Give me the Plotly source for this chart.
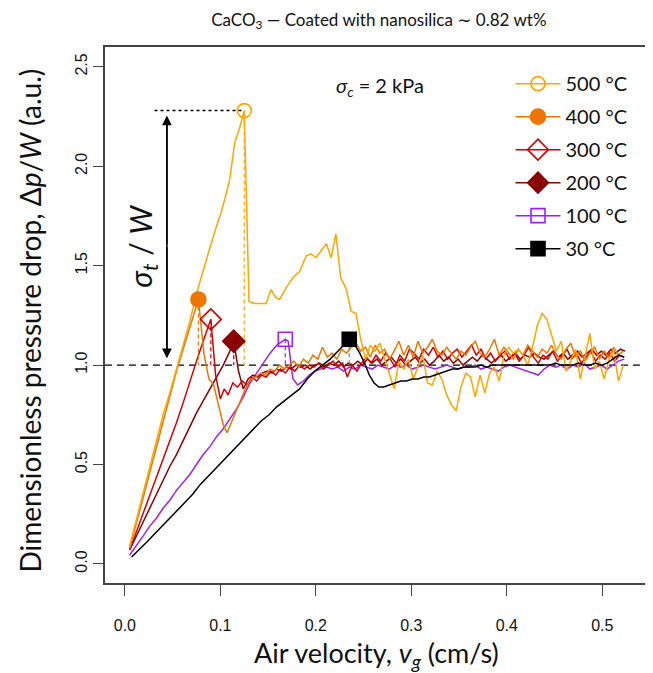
import plotly.graph_objects as go

# ---------------- data ----------------
series_names = ["500 °C", "400 °C", "300 °C", "200 °C", "100 °C", "30 °C"]

v_500 = [0.005, 0.012, 0.019, 0.026, 0.033, 0.040, 0.047, 0.054, 0.061, 0.068,
         0.075, 0.082, 0.089, 0.096, 0.101, 0.106, 0.110, 0.115, 0.120, 0.125,
         0.130, 0.136, 0.142, 0.148, 0.153, 0.158, 0.162, 0.169, 0.176, 0.183,
         0.190, 0.195, 0.200, 0.205, 0.211, 0.216, 0.221, 0.226, 0.232, 0.237,
         0.242, 0.247, 0.252, 0.257, 0.262, 0.267, 0.272, 0.277, 0.282, 0.287,
         0.292, 0.297, 0.302, 0.307, 0.312, 0.317, 0.322, 0.327, 0.332, 0.337,
         0.342, 0.347, 0.352, 0.357, 0.362, 0.367, 0.372, 0.377, 0.382, 0.387,
         0.392, 0.397, 0.402, 0.407, 0.412, 0.417, 0.422, 0.427, 0.432, 0.437,
         0.442, 0.447, 0.452, 0.457, 0.462, 0.467, 0.472, 0.477, 0.482, 0.487,
         0.492, 0.497, 0.502, 0.507, 0.512, 0.517, 0.522]
dp_500 = [0.09, 0.22, 0.36, 0.48, 0.62, 0.75, 0.86, 0.98, 1.10, 1.22,
          1.36, 1.48, 1.59, 1.70, 1.77, 1.86, 1.94, 2.12, 2.19, 2.28,
          1.32, 1.31, 1.31, 1.31, 1.38, 1.34, 1.33, 1.39, 1.44, 1.47,
          1.55, 1.56, 1.54, 1.57, 1.61, 1.54, 1.66, 1.44, 1.38, 1.27,
          1.26, 1.13, 1.03, 1.10, 1.07, 1.11, 1.03, 0.95, 0.88, 1.02,
          0.98, 1.03, 0.93, 0.99, 1.05, 0.91, 0.90, 0.97, 0.93, 0.85,
          0.80, 0.77, 0.89, 0.96, 0.94, 0.84, 0.95, 0.86, 0.96, 0.99,
          0.92, 1.05, 1.09, 1.06, 1.08, 1.05, 1.00, 1.09, 1.20, 1.26,
          1.23, 1.15, 1.07, 1.12, 0.97, 1.02, 1.08, 0.93, 1.05, 1.16,
          0.98, 1.02, 0.93, 1.03, 1.07, 0.92, 1.00]

v_400 = [0.005, 0.012, 0.019, 0.026, 0.033, 0.040, 0.047, 0.054, 0.061, 0.068,
         0.077, 0.083, 0.088, 0.093, 0.098, 0.103, 0.107, 0.112, 0.117, 0.122,
         0.127, 0.132, 0.137, 0.142, 0.147, 0.152, 0.157, 0.162, 0.167, 0.172,
         0.177, 0.182, 0.187, 0.192, 0.197, 0.202, 0.207, 0.212, 0.217, 0.222,
         0.227, 0.232, 0.237, 0.242, 0.247, 0.252, 0.257, 0.262, 0.267, 0.272,
         0.277, 0.282, 0.287, 0.292, 0.297, 0.302, 0.307, 0.312, 0.317, 0.322,
         0.327, 0.332, 0.337, 0.342, 0.347, 0.352, 0.357, 0.362, 0.367, 0.372,
         0.377, 0.382, 0.387, 0.392, 0.397, 0.402, 0.407, 0.412, 0.417, 0.422,
         0.427, 0.432, 0.437, 0.442, 0.447, 0.452, 0.457, 0.462, 0.467, 0.472,
         0.477, 0.482, 0.487, 0.492, 0.497, 0.502, 0.507, 0.512, 0.517, 0.522]
dp_400 = [0.08, 0.20, 0.33, 0.46, 0.59, 0.72, 0.84, 0.97, 1.08, 1.19,
          1.33, 1.05, 0.93, 0.90, 0.80, 0.70, 0.66, 0.72, 0.78, 0.84,
          0.89, 0.93, 0.94, 0.96, 0.95, 0.98, 0.97, 1.00, 0.98, 1.00,
          1.02, 0.99, 1.03, 1.01, 1.05, 1.03, 1.09, 1.04, 1.06, 1.03,
          1.08, 1.06, 1.09, 1.11, 1.07, 1.09, 1.04, 1.10, 1.06, 1.08,
          1.03, 1.07, 1.12, 1.05, 1.10, 1.04, 1.12, 1.06, 1.09, 1.13,
          1.07, 1.05, 1.09, 1.06, 1.03, 1.07, 1.05, 1.09, 1.12, 1.06,
          1.04, 1.08, 1.13, 1.05, 1.09, 1.06, 1.03, 1.08, 1.05, 1.10,
          1.07, 1.04, 1.08, 1.06, 1.10, 1.05, 1.03, 1.08, 1.11, 1.04,
          1.07, 1.02, 1.06, 1.09, 1.03, 1.07, 1.04, 1.09, 1.05, 1.07]

v_300 = [0.005, 0.012, 0.019, 0.026, 0.033, 0.040, 0.047, 0.054, 0.061, 0.068,
         0.075, 0.082, 0.090, 0.095, 0.100, 0.104, 0.108, 0.113, 0.118, 0.123,
         0.128, 0.133, 0.138, 0.143, 0.148, 0.153, 0.158, 0.163, 0.168, 0.173,
         0.178, 0.183, 0.188, 0.193, 0.198, 0.203, 0.208, 0.213, 0.218, 0.223,
         0.228, 0.233, 0.238, 0.243, 0.248, 0.253, 0.258, 0.263, 0.268, 0.273,
         0.278, 0.283, 0.288, 0.293, 0.298, 0.303, 0.308, 0.313, 0.318, 0.323,
         0.328, 0.333, 0.338, 0.343, 0.348, 0.353, 0.358, 0.363, 0.368, 0.373,
         0.378, 0.383, 0.388, 0.393, 0.398, 0.403, 0.408, 0.413, 0.418, 0.423,
         0.428, 0.433, 0.438, 0.443, 0.448, 0.453, 0.458, 0.463, 0.468, 0.473,
         0.478, 0.483, 0.488, 0.493, 0.498, 0.503, 0.508, 0.513, 0.518, 0.523]
dp_300 = [0.07, 0.16, 0.25, 0.34, 0.43, 0.52, 0.61, 0.71, 0.81, 0.92,
          1.02, 1.12, 1.23, 0.95, 0.83, 0.88, 0.85, 0.91, 0.89, 0.92,
          0.90, 0.94, 0.92, 0.95, 0.94, 0.97, 0.95, 0.98, 0.96, 0.99,
          0.97, 1.00, 0.98, 1.00, 0.99, 1.01, 0.98, 1.00, 1.02, 0.99,
          1.01, 0.94, 1.00, 0.97, 1.01, 1.04, 1.01, 1.05, 1.02, 1.06,
          1.03, 0.99, 1.05, 1.02, 1.08, 1.06, 1.03, 1.08, 1.05, 1.09,
          1.04, 1.07, 1.03, 1.06, 1.08, 1.04, 1.07, 1.10, 1.05, 1.08,
          1.03, 1.06, 1.02, 1.05, 1.07, 1.03, 1.06, 1.02, 1.05, 1.09,
          1.04, 1.01, 1.05, 1.03, 1.07, 1.02, 1.05, 1.08, 1.03, 1.06,
          1.01, 1.04, 1.07, 1.02, 1.05, 1.03, 1.06, 1.02, 1.05, 1.04]

v_200 = [0.005, 0.012, 0.019, 0.026, 0.033, 0.040, 0.047, 0.054, 0.061, 0.068,
         0.075, 0.082, 0.089, 0.096, 0.103, 0.109, 0.114, 0.119, 0.124, 0.129,
         0.134, 0.139, 0.144, 0.149, 0.154, 0.159, 0.164, 0.169, 0.174, 0.179,
         0.184, 0.189, 0.194, 0.199, 0.204, 0.209, 0.214, 0.219, 0.224, 0.229,
         0.234, 0.239, 0.244, 0.249, 0.254, 0.259, 0.264, 0.269, 0.274, 0.279,
         0.284, 0.289, 0.294, 0.299, 0.304, 0.309, 0.314, 0.319, 0.324, 0.329,
         0.334, 0.339, 0.344, 0.349, 0.354, 0.359, 0.364, 0.369, 0.374, 0.379,
         0.384, 0.389, 0.394, 0.399, 0.404, 0.409, 0.414, 0.419, 0.424, 0.429,
         0.434, 0.439, 0.444, 0.449, 0.454, 0.459, 0.464, 0.469, 0.474, 0.479,
         0.484, 0.489, 0.494, 0.499, 0.504, 0.509, 0.514, 0.519, 0.524]
dp_200 = [0.07, 0.14, 0.21, 0.28, 0.35, 0.42, 0.49, 0.55, 0.62, 0.69,
          0.76, 0.82, 0.88, 0.94, 1.00, 1.06, 1.12, 0.97, 0.88, 0.93,
          0.95, 0.94, 0.96, 0.97, 0.96, 0.98, 0.97, 0.99, 0.98, 1.00,
          0.99, 1.00, 0.98, 1.00, 1.01, 0.99, 1.01, 1.00, 1.02, 0.99,
          1.01, 1.00, 1.02, 1.00, 1.03, 1.01, 1.03, 1.00, 1.02, 1.04,
          1.01, 1.03, 1.00, 1.02, 1.04, 1.01, 1.03, 1.00, 1.02, 1.05,
          1.02, 1.04, 1.01, 1.03, 1.00, 1.02, 1.04, 1.02, 1.05, 1.03,
          1.01, 1.03, 1.05, 1.02, 1.04, 1.06, 1.03, 1.05, 1.04, 1.06,
          1.04, 1.03, 1.05, 1.07, 1.04, 1.06, 1.03, 1.05, 1.07, 1.04,
          1.06, 1.08, 1.05, 1.07, 1.05, 1.08, 1.06, 1.08, 1.07]

v_100 = [0.005, 0.012, 0.019, 0.026, 0.033, 0.040, 0.047, 0.054, 0.061, 0.068,
         0.075, 0.082, 0.089, 0.096, 0.103, 0.110, 0.117, 0.124, 0.131, 0.138,
         0.145, 0.152, 0.159, 0.168, 0.171, 0.176, 0.181, 0.187, 0.193, 0.199,
         0.205, 0.211, 0.217, 0.223, 0.229, 0.235, 0.241, 0.247, 0.253, 0.259,
         0.265, 0.271, 0.277, 0.283, 0.289, 0.295, 0.301, 0.307, 0.313, 0.319,
         0.325, 0.331, 0.337, 0.343, 0.349, 0.355, 0.361, 0.367, 0.373, 0.379,
         0.385, 0.391, 0.397, 0.403, 0.409, 0.415, 0.421, 0.427, 0.433, 0.439,
         0.445, 0.451, 0.457, 0.463, 0.469, 0.475, 0.481, 0.487, 0.493, 0.499,
         0.505, 0.511, 0.517, 0.523]
dp_100 = [0.045, 0.09, 0.14, 0.19, 0.23, 0.28, 0.32, 0.37, 0.41, 0.45,
          0.50, 0.55, 0.59, 0.64, 0.68, 0.73, 0.78, 0.84, 0.91, 0.96,
          1.01, 1.06, 1.10, 1.13, 1.12, 0.93, 0.90, 0.92, 0.95, 0.97,
          0.98, 0.99, 0.98, 0.99, 0.97, 0.99, 0.98, 1.00, 0.99, 0.98,
          1.00, 0.99, 0.98, 1.00, 0.99, 1.00, 0.98, 0.99, 1.00, 0.99,
          0.98, 0.99, 1.00, 0.99, 0.98, 0.99, 0.99, 1.00, 0.98, 0.99,
          0.98, 0.97, 0.99, 1.00, 0.99, 0.98, 0.97, 0.96, 0.95, 0.98,
          1.00, 0.99, 1.00, 0.98, 1.00, 0.99, 1.01, 0.98, 0.99, 1.00,
          0.98, 1.00, 1.02, 1.03]

v_30 = [0.007, 0.015, 0.023, 0.031, 0.039, 0.047, 0.055, 0.063, 0.071, 0.079,
        0.087, 0.095, 0.103, 0.111, 0.119, 0.127, 0.135, 0.143, 0.151, 0.159,
        0.167, 0.175, 0.183, 0.191, 0.199, 0.207, 0.215, 0.223, 0.229, 0.235,
        0.241, 0.246, 0.251, 0.256, 0.261, 0.266, 0.271, 0.277, 0.283, 0.289,
        0.295, 0.301, 0.307, 0.313, 0.319, 0.325, 0.331, 0.337, 0.343, 0.349,
        0.355, 0.361, 0.367, 0.373, 0.379, 0.385, 0.391, 0.397, 0.403, 0.409,
        0.415, 0.421, 0.427, 0.433, 0.439, 0.445, 0.451, 0.457, 0.463, 0.469,
        0.475, 0.481, 0.487, 0.493, 0.499, 0.505, 0.511, 0.517, 0.523]
dp_30 = [0.035, 0.07, 0.11, 0.15, 0.19, 0.23, 0.27, 0.31, 0.35, 0.40,
         0.44, 0.48, 0.52, 0.56, 0.60, 0.64, 0.68, 0.72, 0.75, 0.79,
         0.82, 0.85, 0.88, 0.93, 0.97, 1.00, 1.03, 1.07, 1.10, 1.13,
         1.10, 1.06, 1.01, 0.95, 0.91, 0.89, 0.89, 0.90, 0.91, 0.92,
         0.92, 0.93, 0.93, 0.94, 0.94, 0.95, 0.96, 0.97, 0.98, 0.98,
         0.99, 0.99, 0.99, 1.00, 0.99, 1.00, 1.00, 1.00, 1.00, 1.00,
         1.00, 1.00, 1.00, 1.00, 1.00, 1.00, 1.01, 1.00, 1.00, 1.00,
         1.01, 1.00, 1.00, 1.01, 1.00, 1.01, 1.03, 1.05, 1.04]

# tensile-strength peaks (velocity, dimensionless drop)
peak_v = [0.125, 0.077, 0.090, 0.114, 0.168, 0.235]
peak_dp = [2.28, 1.33, 1.23, 1.12, 1.13, 1.13]

x_ticks = [0.0, 0.1, 0.2, 0.3, 0.4, 0.5]
x_tick_labels = ["0.0", "0.1", "0.2", "0.3", "0.4", "0.5"]
y_ticks = [0.0, 0.5, 1.0, 1.5, 2.0, 2.5]
y_tick_labels = ["0.0", "0.5", "1.0", "1.5", "2.0", "2.5"]

# ---------------- styling ----------------
colors = ["#FFA500", "#EE7600", "#D20000", "#8B0000", "#A020F0", "#000000"]
guide_colors = ["#FFA500", "#EE7600", "#D20000", "#8B0000", "#A020F0", "#808080"]
symbols = ["circle-open", "circle", "diamond-open", "diamond", "square-open", "square"]
msizes = [14, 15, 16, 17, 14, 14]

all_v = [v_500, v_400, v_300, v_200, v_100, v_30]
all_dp = [dp_500, dp_400, dp_300, dp_200, dp_100, dp_30]
for a, b in zip(all_v, all_dp):
    assert len(a) == len(b), (len(a), len(b))

LAB = "Lato, 'DejaVu Sans', sans-serif"
TICK = "'Liberation Sans', Arial, sans-serif"
X_RANGE = [-0.0209, 0.550]
Y_RANGE = [-0.096, 2.60]

# layout geometry (page has an 8 px body margin)
W, H = 645, 665
ML, MR, MT, MB = 82, 1, 39, 90
PW = W - ML - MR            # paper width in px
LABEL_GAP = 15              # px between label axis and frame
x_dom0 = LABEL_GAP / PW


def px_to_paper_x(px_page):
    return (px_page - 8 - ML) / PW


fig = go.Figure()

for i in reversed(range(6)):
    fig.add_trace(go.Scatter(x=all_v[i], y=all_dp[i], mode="lines",
                             yaxis="y2" if i == 5 else "y",
                             line=dict(color=colors[i], width=1.5),
                             showlegend=False, hoverinfo="skip"))

for i in range(6):
    fig.add_trace(go.Scatter(x=[peak_v[i], peak_v[i]], y=[peak_dp[i], 1.0], mode="lines",
                             line=dict(color=guide_colors[i], width=1.2, dash="4px,3px"),
                             showlegend=False, hoverinfo="skip"))

for i in range(6):
    fig.add_trace(go.Scatter(x=[peak_v[i]], y=[peak_dp[i]], mode="lines+markers",
                             name=series_names[i], legendgroup=series_names[i],
                             line=dict(color=colors[i], width=1.5),
                             marker=dict(symbol=symbols[i], size=msizes[i], color=colors[i],
                                         line=dict(color=colors[i], width=1.6))))

fig.add_shape(type="line", x0=X_RANGE[0], x1=X_RANGE[1], y0=1.0, y1=1.0,
              line=dict(color="black", width=1.2, dash="7px,5px"), layer="below")
fig.add_shape(type="line", x0=0.031, x1=peak_v[0], y0=peak_dp[0], y1=peak_dp[0],
              line=dict(color="black", width=1.5, dash="3px,3px"))

arrow_x = 0.044
fig.add_shape(type="line", x0=arrow_x, x1=arrow_x, y0=1.06, y1=2.22,
              line=dict(color="black", width=1.5))
for tip, tail in [(2.255, 1.6), (1.035, 1.6)]:
    fig.add_annotation(x=arrow_x, y=tip, ax=arrow_x, ay=tail, axref="x", ayref="y",
                       xref="x", yref="y", text="", showarrow=True, arrowhead=2,
                       arrowsize=1.3, arrowwidth=1.5, arrowcolor="black")

fig.add_annotation(x=arrow_x, y=1.6, xshift=-25, xref="x", yref="y", showarrow=False,
                   text="<i>σ<sub>t</sub></i> / <i>W</i>", textangle=-90,
                   font=dict(family=LAB, size=30, color="#111"))
fig.add_annotation(x=0.267, y=2.40, xref="x", yref="y", showarrow=False,
                   text="<i>σ<sub>c</sub></i> = 2 kPa",
                   font=dict(family=LAB, size=20, color="#111"))

fig.add_annotation(xref="paper", yref="paper", x=px_to_paper_x(378), y=-0.133,
                   yanchor="middle", showarrow=False,
                   text="Air velocity, <i>v<sub>g</sub></i> (cm/s)",
                   font=dict(family=LAB, size=27, color="#111"))
fig.add_annotation(xref="paper", yref="paper", x=px_to_paper_x(30), y=0.49,
                   xanchor="center", showarrow=False, textangle=-90,
                   text="Dimensionless pressure drop, Δ<i>p</i>/<i>W</i> (a.u.)",
                   font=dict(family=LAB, size=28, color="#111"))

fig.update_layout(
    width=W, height=H,
    margin=dict(l=ML, r=MR, t=MT, b=MB),
    paper_bgcolor="white", plot_bgcolor="white",
    title=dict(text="CaCO<sub>3</sub> — Coated with nanosilica ∼ 0.82 wt%",
               x=0.575, xanchor="center", y=0.982, yanchor="middle",
               font=dict(family=LAB, size=17, color="#111")),
    showlegend=True,
    legend=dict(x=px_to_paper_x(512), y=0.968, xanchor="left", yanchor="top",
                bgcolor="rgba(0,0,0,0)", font=dict(family=LAB, size=20, color="#111"),
                tracegroupgap=4, itemwidth=45),
    xaxis=dict(range=X_RANGE, domain=[x_dom0, 1], tickvals=x_ticks, ticktext=x_tick_labels,
               showgrid=False, zeroline=False, ticks="outside", ticklen=11,
               tickwidth=1.3, tickcolor="#444", showline=True, linecolor="#444",
               linewidth=1.5, mirror=True, ticklabelstandoff=16,
               tickfont=dict(family=TICK, size=16, color="#111")),
    # visible ticks + frame, no labels
    yaxis=dict(range=Y_RANGE, tickvals=y_ticks, showticklabels=False,
               showgrid=False, zeroline=False, ticks="outside", ticklen=10,
               tickwidth=1.3, tickcolor="#444", showline=True, linecolor="#444",
               linewidth=1.5, mirror=True),
    # identical overlay axis placed left of the frame; it only carries the rotated labels
    yaxis2=dict(range=Y_RANGE, tickvals=y_ticks, ticktext=y_tick_labels,
                overlaying="y", side="left", anchor="free", position=0,
                showgrid=False, zeroline=False, showline=False, ticks="",
                tickangle=-90, tickfont=dict(family=TICK, size=16, color="#111")),
)

fig.write_html("out.html")
